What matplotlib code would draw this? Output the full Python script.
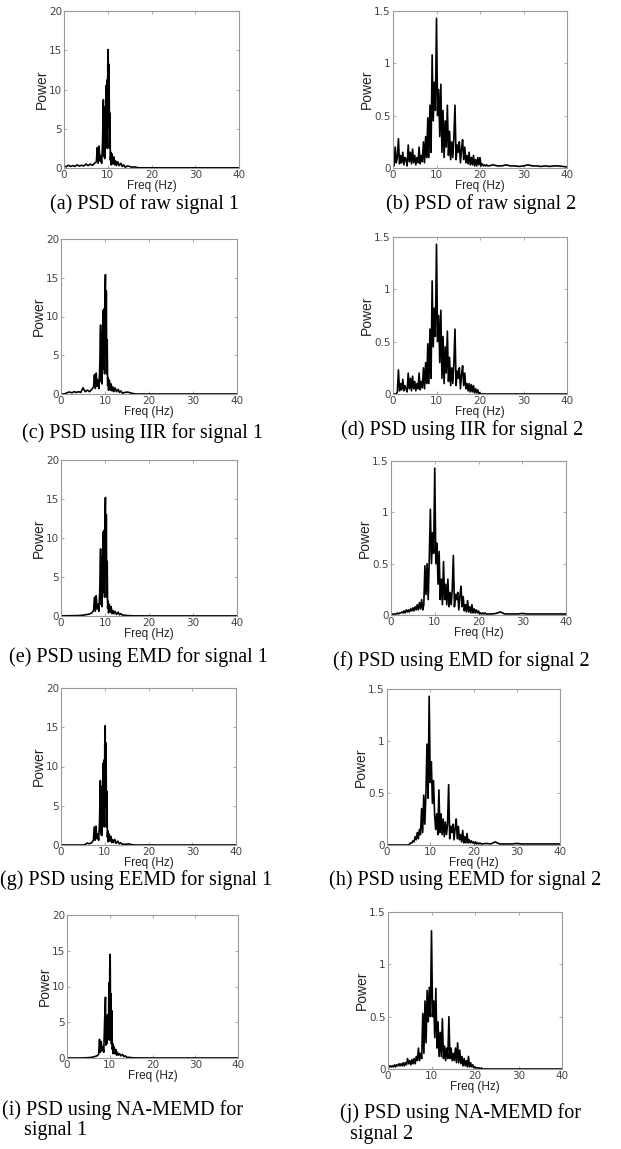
import numpy as np
import matplotlib.pyplot as plt

# frequency bins (Hz) for signal 1 panels, rows of 8
freq_s1 = [0, 0.5, 1, 1.5, 2, 2.5, 3, 3.5,
           4, 4.5, 5, 5.5, 6, 6.5, 7, 7.4,
           7.6, 7.8, 8.0, 8.2, 8.4, 8.6, 8.8, 9.0,
           9.1, 9.2, 9.3, 9.4, 9.5, 9.6, 9.7, 9.8,
           9.9, 10.0, 10.1, 10.2, 10.3, 10.4, 10.5, 10.6,
           10.7, 10.8, 11.0, 11.2, 11.4, 11.6, 11.8, 12.0,
           12.3, 12.6, 13.0, 13.3, 13.6, 14.0, 14.5, 15.0,
           15.5, 16.0, 17, 20, 25, 30, 35, 40]

psd_a = [0.3, 0.15, 0.35, 0.2, 0.3, 0.2, 0.4, 0.25,
         0.35, 0.25, 0.5, 0.3, 0.5, 0.35, 0.6, 0.8,
         2.6, 0.6, 2.8, 0.9, 1.6, 0.6, 3.0, 8.7,
         1.5, 6.5, 1.2, 7.8, 3.0, 10.5, 4.0, 11.2,
         2.5, 13.0, 15.1, 5.0, 13.2, 2.5, 7.0, 1.0,
         2.0, 0.4, 1.8, 0.5, 1.4, 0.4, 0.9, 0.3,
         0.8, 0.3, 0.6, 0.2, 0.4, 0.1, 0.25, 0.2,
         0.1, 0.15, 0.03, 0.02, 0.02, 0.02, 0.02, 0.02]

psd_c = [0.0, 0.0, 0.05, 0.2, 0.25, 0.15, 0.3, 0.2,
         0.3, 0.2, 0.8, 0.3, 0.5, 0.3, 0.6, 0.9,
         2.5, 0.7, 2.7, 1.0, 1.8, 0.7, 3.2, 8.9,
         1.6, 6.8, 1.3, 8.0, 3.2, 10.8, 4.2, 11.0,
         2.6, 13.2, 15.4, 5.2, 13.3, 2.6, 7.0, 1.1,
         2.1, 0.5, 1.8, 0.5, 1.3, 0.4, 0.9, 0.3,
         0.8, 0.3, 0.6, 0.2, 0.4, 0.1, 0.2, 0.25,
         0.2, 0.1, 0.0, 0.0, 0.0, 0.0, 0.0, 0.0]

psd_e = [0.02, 0.02, 0.03, 0.03, 0.04, 0.04, 0.05, 0.05,
         0.06, 0.08, 0.1, 0.15, 0.2, 0.25, 0.4, 0.7,
         2.4, 0.6, 2.6, 0.9, 1.5, 0.6, 3.0, 8.6,
         1.5, 6.4, 1.2, 7.6, 3.0, 10.8, 4.0, 11.0,
         2.4, 13.0, 15.2, 5.0, 13.0, 2.4, 7.0, 1.0,
         1.9, 0.4, 1.5, 0.5, 1.2, 0.3, 0.7, 0.3,
         0.6, 0.2, 0.5, 0.15, 0.3, 0.1, 0.1, 0.05,
         0.05, 0.03, 0.02, 0.01, 0.01, 0.01, 0.01, 0.01]

psd_g = [0.0, 0.0, 0.0, 0.0, 0.0, 0.0, 0.0, 0.0,
         0.0, 0.0, 0.0, 0.05, 0.25, 0.15, 0.3, 0.6,
         2.3, 0.6, 2.4, 0.8, 1.4, 0.6, 2.8, 8.2,
         1.4, 6.2, 1.2, 7.5, 2.9, 10.4, 3.8, 10.8,
         2.3, 12.8, 15.2, 4.8, 13.0, 2.3, 6.8, 1.0,
         1.8, 0.4, 1.4, 0.5, 1.1, 0.3, 0.7, 0.3,
         0.7, 0.2, 0.5, 0.15, 0.3, 0.1, 0.1, 0.1,
         0.15, 0.05, 0.0, 0.0, 0.0, 0.0, 0.0, 0.0]

psd_i = [0.0, 0.0, 0.0, 0.0, 0.0, 0.0, 0.0, 0.0,
         0.02, 0.03, 0.05, 0.08, 0.12, 0.2, 0.3, 0.5,
         2.6, 0.8, 2.3, 1.0, 1.6, 0.8, 5.2, 8.5,
         1.8, 5.5, 2.0, 6.0, 3.0, 6.0, 3.5, 10.5,
         2.5, 12.5, 14.5, 4.5, 9.0, 2.0, 6.6, 1.2,
         2.0, 0.6, 1.6, 0.6, 1.2, 0.4, 0.8, 0.4,
         0.6, 0.3, 0.5, 0.2, 0.3, 0.1, 0.1, 0.05,
         0.03, 0.02, 0.01, 0.0, 0.0, 0.0, 0.0, 0.0]

# frequency bins (Hz) for signal 2 panels: quarter-Hz up to 22, then 1 Hz
freq_s2 = [0, 0.25, 0.5, 0.75, 1, 1.25, 1.5, 1.75,
           2, 2.25, 2.5, 2.75, 3, 3.25, 3.5, 3.75,
           4, 4.25, 4.5, 4.75, 5, 5.25, 5.5, 5.75,
           6, 6.25, 6.5, 6.75, 7, 7.25, 7.5, 7.75,
           8, 8.25, 8.5, 8.75, 9, 9.25, 9.5, 9.75,
           10, 10.25, 10.5, 10.75, 11, 11.25, 11.5, 11.75,
           12, 12.25, 12.5, 12.75, 13, 13.25, 13.5, 13.75,
           14, 14.25, 14.5, 14.75, 15, 15.25, 15.5, 15.75,
           16, 16.25, 16.5, 16.75, 17, 17.25, 17.5, 17.75,
           18, 18.25, 18.5, 18.75, 19, 19.25, 19.5, 19.75,
           20, 20.25, 20.5, 20.75, 21, 21.25, 21.5, 21.75,
           22,
           23, 24, 25, 26, 27, 28, 29, 30, 31,
           32, 33, 34, 35, 36, 37, 38, 39, 40]

psd_b = [0.15, 0.02, 0.2, 0.05, 0.1, 0.28, 0.04, 0.12,
         0.05, 0.15, 0.03, 0.1, 0.08, 0.02, 0.22, 0.06,
         0.15, 0.04, 0.18, 0.05, 0.12, 0.03, 0.1, 0.05,
         0.2, 0.04, 0.12, 0.06, 0.25, 0.05, 0.3, 0.1,
         0.48, 0.1, 0.6, 0.15, 1.08, 0.45, 0.82, 0.55,
         1.43, 0.5, 0.75, 0.3, 0.8, 0.15, 0.55, 0.1,
         0.45, 0.2, 0.6, 0.12, 0.35, 0.08, 0.25, 0.1,
         0.3, 0.6, 0.08, 0.22, 0.15, 0.25, 0.05, 0.18,
         0.27, 0.08, 0.2, 0.05, 0.12, 0.04, 0.15, 0.03,
         0.1, 0.03, 0.12, 0.02, 0.08, 0.02, 0.1, 0.03,
         0.1, 0.02, 0.04, 0.02, 0.03, 0.02, 0.03, 0.02,
         0.02,
         0.03, 0.02, 0.02, 0.03, 0.02, 0.02, 0.015, 0.02, 0.03,
         0.02, 0.02, 0.015, 0.02, 0.015, 0.02, 0.02, 0.015, 0.01]

psd_d = [0.0, 0.0, 0.0, 0.0, 0.02, 0.23, 0.03, 0.1,
         0.04, 0.14, 0.03, 0.08, 0.05, 0.02, 0.2, 0.05,
         0.15, 0.03, 0.17, 0.05, 0.12, 0.03, 0.1, 0.05,
         0.2, 0.04, 0.12, 0.06, 0.25, 0.05, 0.3, 0.1,
         0.48, 0.1, 0.62, 0.15, 1.08, 0.45, 0.82, 0.55,
         1.43, 0.5, 0.75, 0.3, 0.8, 0.15, 0.55, 0.1,
         0.45, 0.2, 0.6, 0.12, 0.35, 0.08, 0.25, 0.1,
         0.3, 0.62, 0.08, 0.22, 0.15, 0.25, 0.05, 0.18,
         0.27, 0.08, 0.2, 0.05, 0.1, 0.03, 0.1, 0.02,
         0.09, 0.02, 0.08, 0.01, 0.05, 0.01, 0.04, 0.0,
         0.01, 0.0, 0.0, 0.0, 0.0, 0.0, 0.0, 0.0,
         0.0,
         0.0, 0.0, 0.0, 0.0, 0.0, 0.0, 0.0, 0.0, 0.0,
         0.0, 0.0, 0.0, 0.0, 0.0, 0.0, 0.0, 0.0, 0.0]

psd_f = [0.0, 0.0, 0.01, 0.01, 0.01, 0.01, 0.02, 0.01,
         0.02, 0.02, 0.03, 0.02, 0.04, 0.02, 0.05, 0.03,
         0.05, 0.03, 0.06, 0.04, 0.07, 0.04, 0.08, 0.05,
         0.1, 0.05, 0.12, 0.06, 0.15, 0.05, 0.1, 0.48,
         0.2, 0.5, 0.15, 0.55, 1.03, 0.5, 0.8, 0.6,
         1.43, 0.5, 0.7, 0.3, 0.62, 0.15, 0.35, 0.1,
         0.52, 0.15, 0.3, 0.1, 0.35, 0.08, 0.22, 0.1,
         0.25, 0.58, 0.08, 0.2, 0.15, 0.22, 0.05, 0.18,
         0.28, 0.08, 0.18, 0.04, 0.1, 0.03, 0.14, 0.03,
         0.08, 0.02, 0.1, 0.02, 0.06, 0.02, 0.05, 0.02,
         0.04, 0.01, 0.02, 0.01, 0.02, 0.01, 0.02, 0.01,
         0.01,
         0.01, 0.015, 0.03, 0.01, 0.01, 0.01, 0.01, 0.015, 0.01,
         0.01, 0.01, 0.01, 0.01, 0.01, 0.01, 0.01, 0.01, 0.01]

psd_h = [0.0, 0.0, 0.0, 0.0, 0.0, 0.0, 0.0, 0.0,
         0.0, 0.0, 0.0, 0.0, 0.0, 0.0, 0.0, 0.0,
         0.0, 0.0, 0.0, 0.0, 0.0, 0.01, 0.02, 0.02,
         0.04, 0.03, 0.08, 0.05, 0.12, 0.06, 0.15, 0.1,
         0.35, 0.12, 0.48, 0.2, 0.5, 0.97, 0.45, 1.43,
         0.6, 0.8, 0.4, 0.62, 0.3, 0.15, 0.3, 0.1,
         0.53, 0.12, 0.3, 0.1, 0.25, 0.08, 0.22, 0.1,
         0.2, 0.58, 0.06, 0.18, 0.12, 0.2, 0.05, 0.16,
         0.25, 0.06, 0.18, 0.05, 0.1, 0.03, 0.14, 0.02,
         0.08, 0.02, 0.11, 0.02, 0.05, 0.02, 0.04, 0.02,
         0.03, 0.01, 0.03, 0.01, 0.02, 0.01, 0.02, 0.01,
         0.01,
         0.015, 0.01, 0.03, 0.01, 0.01, 0.01, 0.01, 0.015, 0.01,
         0.01, 0.01, 0.01, 0.01, 0.01, 0.01, 0.01, 0.01, 0.01]

psd_j = [0.01, 0.02, 0.03, 0.02, 0.03, 0.02, 0.04, 0.02,
         0.04, 0.03, 0.05, 0.03, 0.05, 0.03, 0.06, 0.03,
         0.06, 0.04, 0.1, 0.05, 0.08, 0.04, 0.09, 0.05,
         0.1, 0.05, 0.12, 0.08, 0.2, 0.08, 0.15, 0.1,
         0.53, 0.15, 0.65, 0.25, 0.75, 0.45, 0.78, 0.5,
         1.32, 0.5, 0.65, 0.3, 0.77, 0.2, 0.45, 0.12,
         0.35, 0.12, 0.48, 0.1, 0.22, 0.08, 0.2, 0.1,
         0.5, 0.1, 0.2, 0.08, 0.15, 0.08, 0.2, 0.06,
         0.25, 0.06, 0.18, 0.05, 0.12, 0.03, 0.1, 0.03,
         0.08, 0.02, 0.12, 0.02, 0.06, 0.02, 0.04, 0.01,
         0.02, 0.01, 0.01, 0.01, 0.01, 0.0, 0.01, 0.0,
         0.0,
         0.0, 0.0, 0.0, 0.0, 0.0, 0.0, 0.0, 0.0, 0.0,
         0.0, 0.0, 0.0, 0.0, 0.0, 0.0, 0.0, 0.0, 0.0]

xticks = [0, 10, 20, 30, 40]
yticks_s1 = [0, 5, 10, 15, 20]
ylabels_s1 = ['0', '5', '10', '15', '20']
yticks_s2 = [0, 0.5, 1, 1.5]
ylabels_s2 = ['0', '0.5', '1', '1.5']

captions = ['(a) PSD of raw signal 1', '(b) PSD of raw signal 2',
            '(c) PSD using IIR for signal 1', '(d) PSD using IIR for signal 2',
            '(e) PSD using EMD for signal 1', '(f) PSD using EMD for signal 2',
            '(g) PSD using EEMD for signal 1', '(h) PSD using EEMD for signal 2',
            '(i) PSD using NA-MEMD for', '(j) PSD using NA-MEMD for']
captions_2nd = {8: 'signal 1', 9: 'signal 2'}

W, H = 621, 1149
fig = plt.figure(figsize=(W / 100, H / 100), dpi=100)

# axes boxes in pixels: left, right, top, bottom
boxes = [(64, 239, 11, 168), (393, 567, 11, 168),
         (61, 237, 239, 394), (393, 567, 237, 394),
         (61, 237, 460, 616), (391, 566, 461, 615),
         (61, 236, 688, 845), (387, 560, 689, 845),
         (67, 238, 915, 1058), (388, 562, 912, 1069)]
# caption anchors in pixels: x, y, alignment
cap_pos = [(145, 204, 'center'), (481, 204, 'center'),
           (143, 433, 'center'), (462, 430, 'center'),
           (138, 657, 'center'), (461, 661, 'center'),
           (136, 880, 'center'), (465, 880, 'center'),
           (2, 1110, 'left'), (340, 1113, 'left')]
cap2_pos = {8: (24, 1131), 9: (350, 1135)}

series = [(freq_s1, psd_a), (freq_s2, psd_b), (freq_s1, psd_c), (freq_s2, psd_d),
          (freq_s1, psd_e), (freq_s2, psd_f), (freq_s1, psd_g), (freq_s2, psd_h),
          (freq_s1, psd_i), (freq_s2, psd_j)]

for k, (freq, psd) in enumerate(series):
    l, r, t, b = boxes[k]
    ax = fig.add_axes([l / W, 1 - b / H, (r - l) / W, (b - t) / H])
    ax.plot(freq, psd, color='black', lw=1.2)
    ax.set_xlim(0, 40)
    ax.set_xticks(xticks)
    if k % 2 == 0:
        ax.set_ylim(0, 20)
        ax.set_yticks(yticks_s1)
        ax.set_yticklabels(ylabels_s1)
    else:
        ax.set_ylim(0, 1.5)
        ax.set_yticks(yticks_s2)
        ax.set_yticklabels(ylabels_s2)
    for s in ax.spines.values():
        s.set_color('#9a9a9a')
        s.set_linewidth(0.8)
    ax.tick_params(direction='in', length=2.5, width=0.6, color='#9a9a9a',
                   top=True, right=True, labelsize=7.5, labelcolor='#444444', pad=1.5)
    ax.set_xlabel('Freq (Hz)', fontsize=8.5, family='Liberation Sans', labelpad=0,
                  color='#222222')
    ax.set_ylabel('Power', fontsize=10, family='Liberation Sans', labelpad=0,
                  color='#222222')
    cx, cy, ha = cap_pos[k]
    fig.text(cx / W, 1 - cy / H, captions[k], ha=ha, va='center',
             fontsize=14.5, family='Liberation Serif')
    if k in captions_2nd:
        x2, y2 = cap2_pos[k]
        fig.text(x2 / W, 1 - y2 / H, captions_2nd[k], ha='left', va='center',
                 fontsize=14.5, family='Liberation Serif')

fig.savefig('out.png', dpi=100)
